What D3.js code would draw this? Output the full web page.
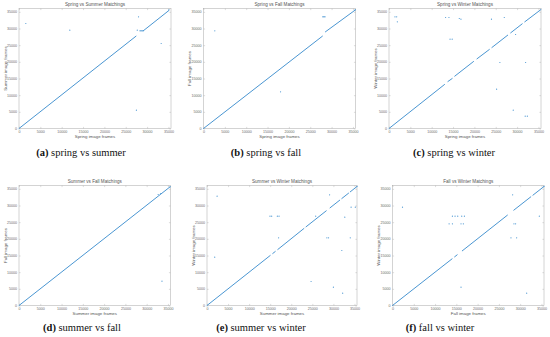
<!DOCTYPE html>
<html>
<head>
<meta charset="utf-8">
<script src="https://cdn.jsdelivr.net/npm/d3@7/dist/d3.min.js"></script>
<style>
  body { margin: 0; background: #fff; }
  svg { display: block; }
</style>
</head>
<body>
<div id="fig"></div>
<script>
// ---- data ----
var tickValues = [0, 5000, 10000, 15000, 20000, 25000, 30000, 35000];

var titles = ["Spring vs Summer Matchings", "Spring vs Fall Matchings", "Spring vs Winter Matchings",
              "Summer vs Fall Matchings", "Summer vs Winter Matchings", "Fall vs Winter Matchings"];
var xLabels = ["Spring image frames", "Spring image frames", "Spring image frames",
               "Summer image frames", "Summer image frames", "Fall image frames"];
var yLabels = ["Summer image frames", "Fall image frames", "Winter image frames",
               "Fall image frames", "Winter image frames", "Winter image frames"];
var captionLetters = ["a", "b", "c", "d", "e", "f"];
var captionTexts = ["spring vs summer", "spring vs fall", "spring vs winter",
                    "summer vs fall", "summer vs winter", "fall vs winter"];

// dense runs of matches along the diagonal: [x0, y0, x1, y1]
var runsA = [[0, 0, 27400, 27700], [28300, 29300, 29100, 29300], [29100, 29300, 35100, 35400]];
var runsB = [[0, 0, 27850, 27700], [27900, 33500, 28500, 33500], [28550, 29000, 35600, 35600]];
var runsC = [[0, 0, 13000, 13200], [13800, 14100, 14800, 15000], [15400, 15700, 19800, 20100],
             [20600, 20900, 23500, 23700], [24100, 24300, 27800, 28000], [28500, 28700, 31200, 31400],
             [31800, 32000, 35600, 35700]];
var runsD = [[0, 0, 35500, 35600]];
var runsE = [[0, 0, 15000, 15000], [15600, 15600, 16200, 16200], [16800, 16800, 23000, 23100],
             [23500, 23600, 28300, 28400], [29200, 29300, 31500, 31600], [32000, 32100, 33600, 33700],
             [34000, 34100, 35600, 35700]];
var runsF = [[0, 0, 14000, 14000], [14600, 14600, 15200, 15200], [16400, 16400, 27000, 27100],
             [28500, 28600, 32500, 32600], [33000, 33100, 35600, 35700]];

// isolated matches: [x, y]
var pointsA = [[1600, 31500], [11900, 29500], [28000, 33500], [27700, 29500], [33300, 25500],
               [27500, 5500], [35100, 35600]];
var pointsB = [[2650, 29300], [18050, 11000], [35500, 35600]];
var pointsC = [[1400, 33500], [1800, 33500], [1950, 32000], [13260, 33300], [14040, 33300],
               [16460, 33000], [16850, 32800], [14300, 26800], [14800, 26800], [24000, 32800],
               [27000, 33300], [29650, 28200], [25970, 19800], [32000, 19800], [25200, 11800],
               [29100, 5500], [31900, 3700], [32400, 3700]];
var pointsD = [[33600, 7300], [32700, 33300], [33300, 33600], [35500, 35600]];
var pointsE = [[2400, 32800], [1830, 14500], [14950, 26800], [15350, 26800], [16700, 26800],
               [17100, 26800], [17000, 20300], [25800, 26800], [24700, 7200], [28450, 20300],
               [28850, 20300], [29100, 33200], [32700, 26500], [32000, 16500], [34200, 29500],
               [35200, 29500], [34000, 20300], [30000, 5500], [32200, 3700], [35600, 35700]];
var pointsF = [[2350, 29500], [14080, 26800], [14700, 26800], [15330, 26800], [16270, 26800],
               [16900, 26800], [13300, 24500], [14080, 24500], [16100, 24500], [16650, 24500],
               [16100, 5500], [28230, 33200], [28540, 24500], [28930, 24500], [27840, 20300],
               [29170, 20300], [34500, 26800], [31530, 3700], [35600, 35700]];

var allRuns = [runsA, runsB, runsC, runsD, runsE, runsF];
var allPoints = [pointsA, pointsB, pointsC, pointsD, pointsE, pointsF];

// ---- layout ----
var width = 550, height = 337;
var frames = [
  { l: 19,    r: 171,   t: 8.5,   b: 128.5, cap: 81 },
  { l: 203.5, r: 355.5, t: 8.5,   b: 128.5, cap: 266 },
  { l: 389,   r: 541,   t: 8.5,   b: 128.5, cap: 454 },
  { l: 19,    r: 170.5, t: 185.5, b: 305.5, cap: 82 },
  { l: 207,   r: 357,   t: 185.5, b: 305.5, cap: 261 },
  { l: 392.5, r: 544,   t: 185.5, b: 305.5, cap: 440 }
];
var captionY = [156, 156, 156, 331, 331, 331];
var dotColor = "#4a96d2";
var frameColor = "#a8a8a8";
var textColor = "#6a6a6a";

var svg = d3.select("#fig").append("svg")
  .attr("width", width)
  .attr("height", height);

frames.forEach(function (f, i) {
  var x = d3.scaleLinear().domain([0, 35600]).range([f.l, f.r]);
  var y = d3.scaleLinear().domain([0, 36000]).range([f.b, f.t]);
  var g = svg.append("g");

  // box
  g.append("rect")
    .attr("x", f.l).attr("y", f.t)
    .attr("width", f.r - f.l).attr("height", f.b - f.t)
    .style("fill", "none")
    .style("stroke", frameColor)
    .style("stroke-width", 0.5);

  function styleAxis(sel) {
    sel.select(".domain").remove();
    sel.selectAll(".tick line").style("stroke", frameColor).style("stroke-width", 0.4);
    sel.selectAll(".tick text")
      .style("fill", textColor)
      .style("font-family", "Liberation Sans, Arial, sans-serif")
      .style("font-size", "3.6px");
  }

  g.append("g").attr("transform", "translate(0," + f.b + ")")
    .call(d3.axisBottom(x).tickValues(tickValues).tickSize(-1.6).tickPadding(1.6).tickFormat(d3.format("d")))
    .call(styleAxis);
  g.append("g").attr("transform", "translate(0," + f.t + ")")
    .call(d3.axisTop(x).tickValues(tickValues).tickSize(-1.6).tickFormat(""))
    .call(styleAxis);
  g.append("g").attr("transform", "translate(" + f.l + ",0)")
    .call(d3.axisLeft(y).tickValues(tickValues).tickSize(-1.6).tickPadding(2).tickFormat(d3.format("d")))
    .call(styleAxis);
  g.append("g").attr("transform", "translate(" + f.r + ",0)")
    .call(d3.axisRight(y).tickValues(tickValues).tickSize(-1.6).tickFormat(""))
    .call(styleAxis);

  // diagonal runs
  g.selectAll("line.run")
    .data(allRuns[i])
    .enter().append("line")
      .attr("class", "run")
      .attr("x1", function (d) { return x(d[0]); })
      .attr("y1", function (d) { return y(d[1]); })
      .attr("x2", function (d) { return x(d[2]); })
      .attr("y2", function (d) { return y(d[3]); })
      .style("stroke", dotColor)
      .style("stroke-width", 1.0)
      .style("stroke-linecap", "round");

  // isolated points
  g.selectAll("circle")
    .data(allPoints[i])
    .enter().append("circle")
      .attr("cx", function (d) { return x(d[0]); })
      .attr("cy", function (d) { return y(d[1]); })
      .attr("r", 0.6)
      .style("fill", dotColor);

  // title and axis labels
  g.append("text")
    .attr("x", (f.l + f.r) / 2).attr("y", f.t - 2.2)
    .attr("text-anchor", "middle")
    .style("font-family", "Liberation Sans, Arial, sans-serif")
    .style("font-size", "4.6px")
    .style("fill", "#555")
    .text(titles[i]);

  g.append("text")
    .attr("x", (f.l + f.r) / 2).attr("y", f.b + 9)
    .attr("text-anchor", "middle")
    .style("font-family", "Liberation Sans, Arial, sans-serif")
    .style("font-size", "4.4px")
    .style("fill", "#555")
    .text(xLabels[i]);

  g.append("text")
    .attr("transform", "translate(" + (f.l - 12.5) + "," + ((f.t + f.b) / 2) + ") rotate(-90)")
    .attr("text-anchor", "middle")
    .style("font-family", "Liberation Sans, Arial, sans-serif")
    .style("font-size", "4.4px")
    .style("fill", "#555")
    .text(yLabels[i]);

  // caption
  var cap = svg.append("text")
    .attr("x", f.cap).attr("y", captionY[i])
    .attr("text-anchor", "middle")
    .style("font-family", "Liberation Serif, 'DejaVu Serif', serif")
    .style("font-size", "10.5px")
    .style("fill", "#111");
  cap.append("tspan").style("font-weight", "bold").text("(" + captionLetters[i] + ")");
  cap.append("tspan").text(" " + captionTexts[i]);
});
</script>
</body>
</html>
